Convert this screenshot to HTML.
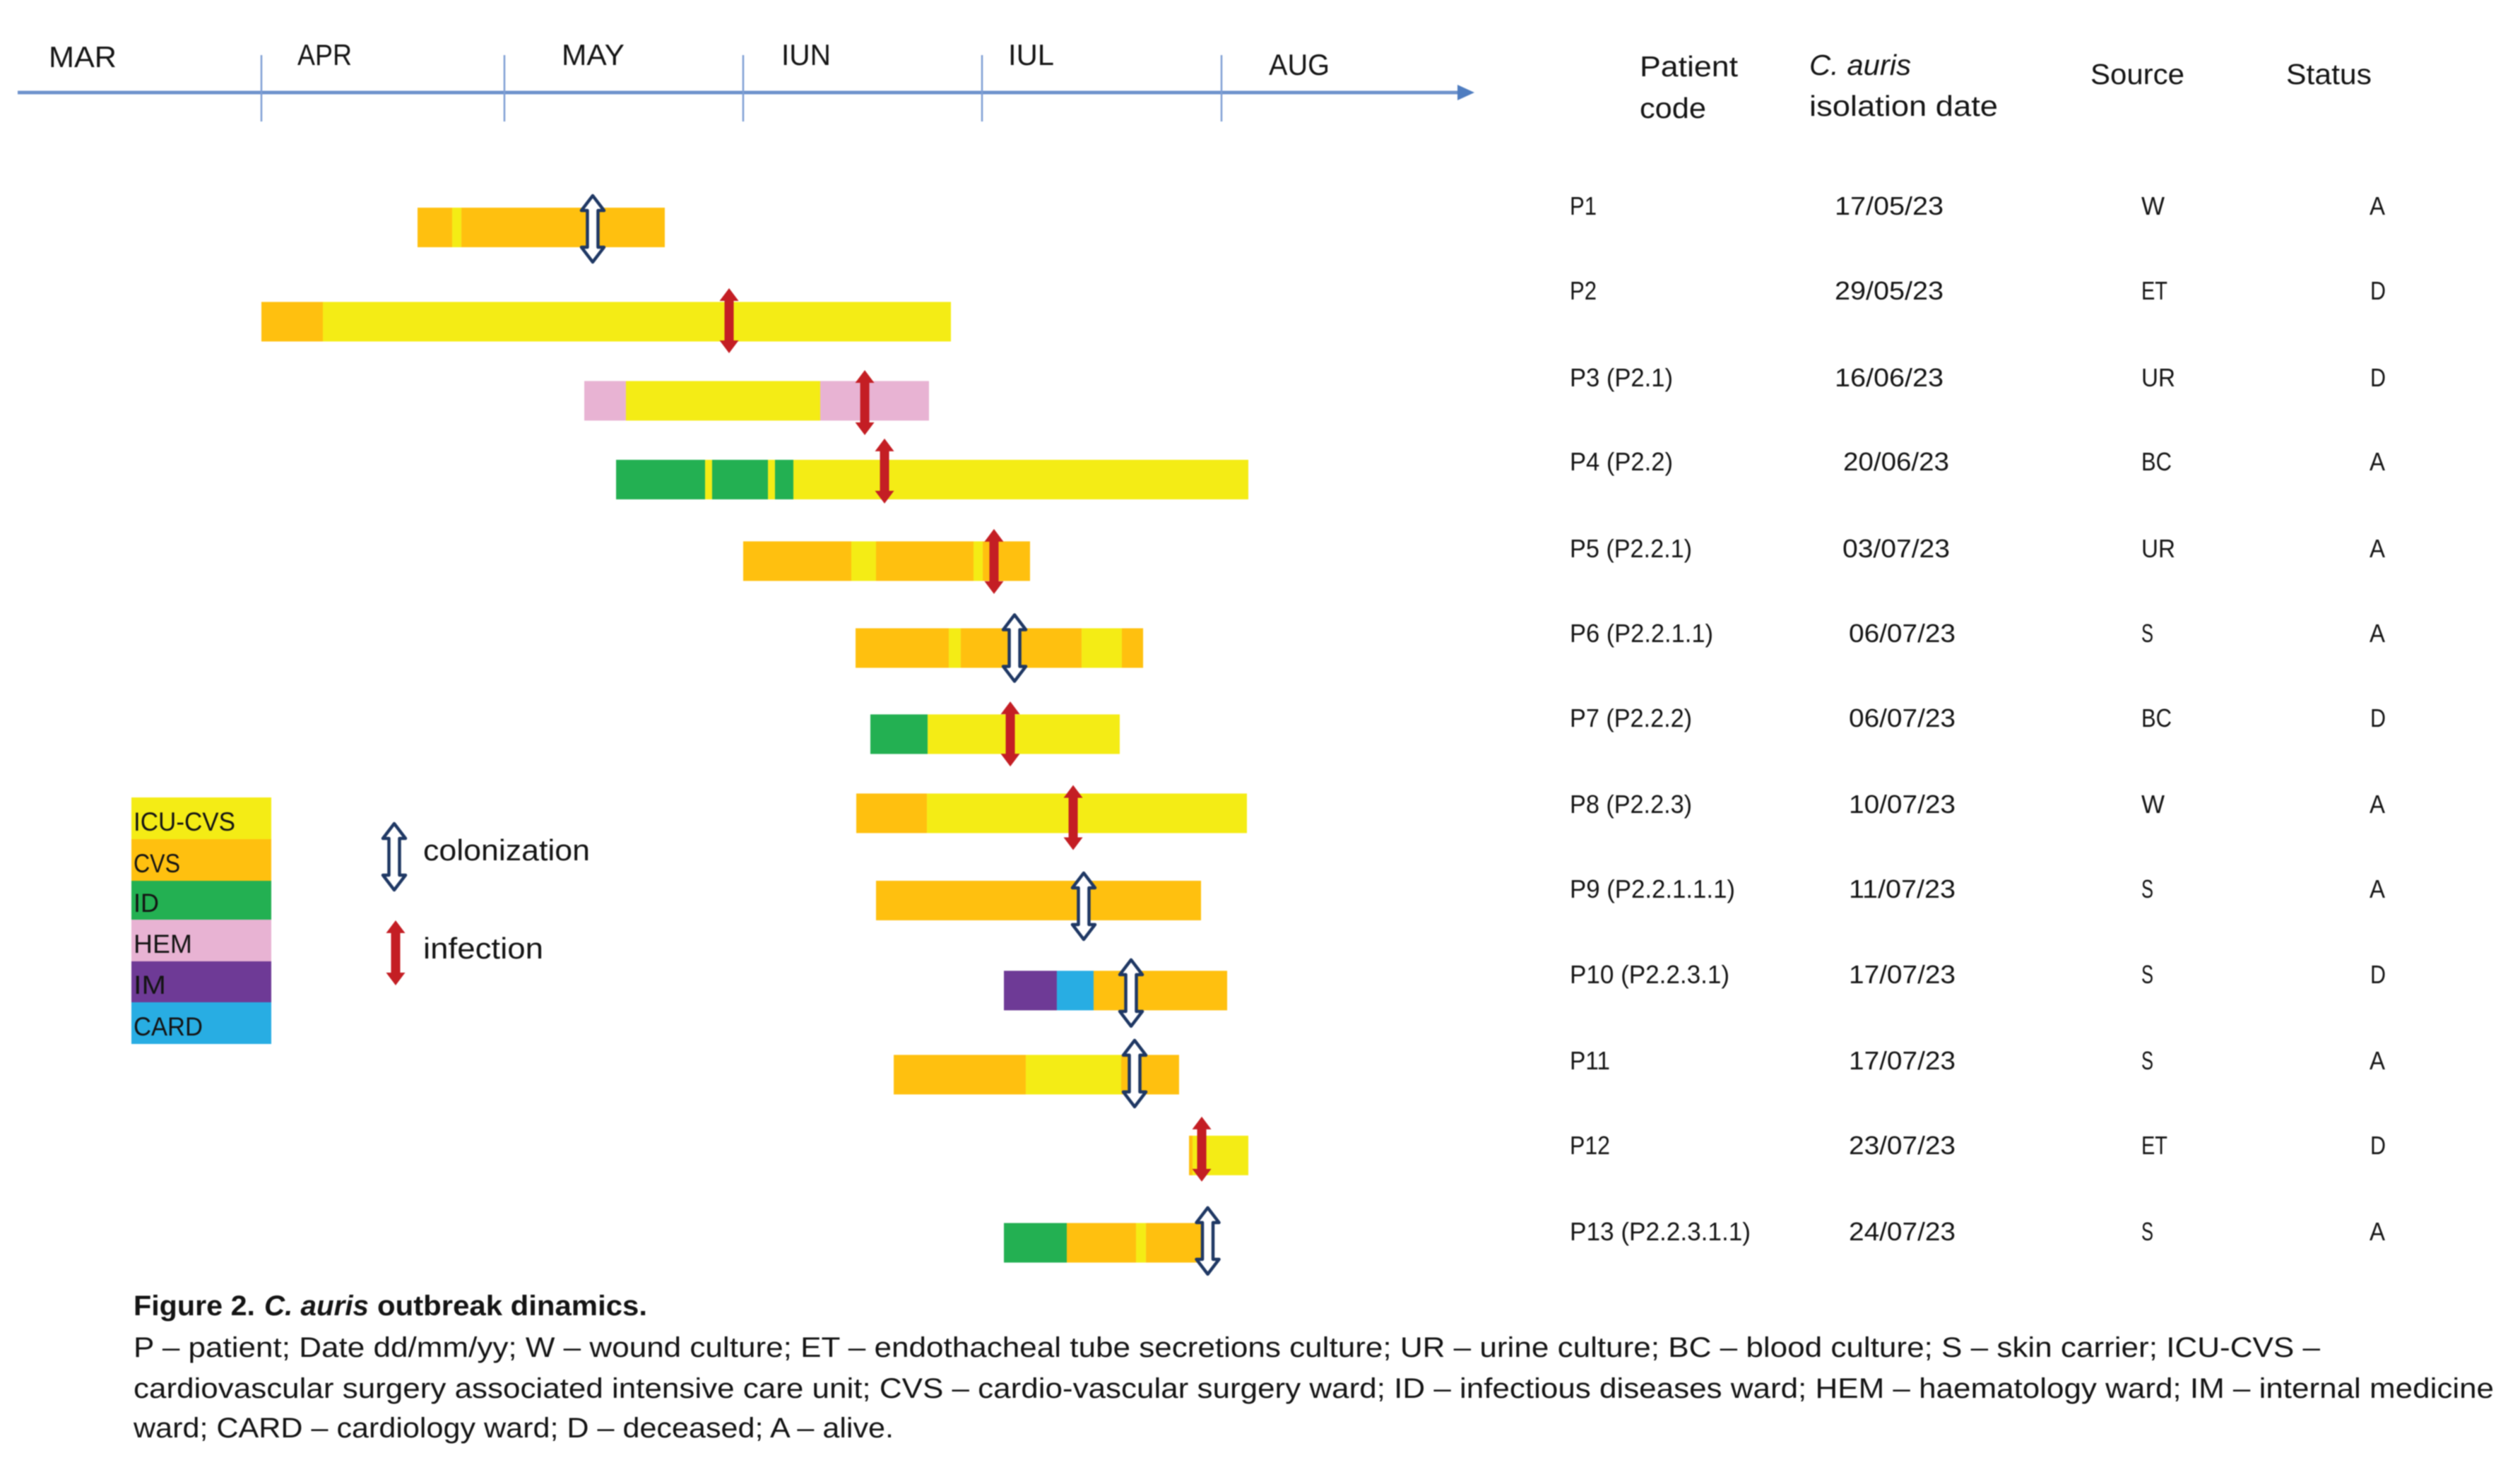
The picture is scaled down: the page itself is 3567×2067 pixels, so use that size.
<!DOCTYPE html>
<html lang="en">
<head>
<meta charset="utf-8">
<title>C. auris outbreak dynamics</title>
<style>
html,body{margin:0;padding:0;background:#fff;width:3567px;height:2067px;overflow:hidden}
svg{display:block;filter:blur(0.9px)}
text{font-family:"Liberation Sans",sans-serif;fill:#141414}
.m{font-size:42px}
.h{font-size:41px}
.t{font-size:36px}
.l{font-size:37px}
.c{font-size:40px}
.k{font-size:42px}
</style>
</head>
<body>
<svg id="chart" xmlns="http://www.w3.org/2000/svg" width="3567" height="2067" viewBox="0 0 3567 2067">
<rect x="0" y="0" width="3567" height="2067" fill="#fff"/>

<g id="axis">
<rect x="25" y="128.5" width="2045" height="5" fill="#6f93cc"/>
<polygon points="2063,120 2087,131 2063,142" fill="#4f7dc0"/>
<g id="ticks"></g>
<text class="m" x="69" y="95" textLength="96" lengthAdjust="spacingAndGlyphs">MAR</text>
<text class="m" x="421" y="92" textLength="77" lengthAdjust="spacingAndGlyphs">APR</text>
<text class="m" x="795" y="92" textLength="89" lengthAdjust="spacingAndGlyphs">MAY</text>
<text class="m" x="1106" y="92" textLength="70" lengthAdjust="spacingAndGlyphs">IUN</text>
<text class="m" x="1427" y="92" textLength="65" lengthAdjust="spacingAndGlyphs">IUL</text>
<text class="m" x="1796" y="106" textLength="86" lengthAdjust="spacingAndGlyphs">AUG</text>
</g>

<g id="bars"></g>
<g id="markers"></g>

<g>
<rect x="186" y="1129" width="198" height="59" fill="#f4ec15"/>
<rect x="186" y="1188" width="198" height="59" fill="#ffc00f"/>
<rect x="186" y="1247" width="198" height="55" fill="#23b052"/>
<rect x="186" y="1302" width="198" height="59" fill="#e8b3d3"/>
<rect x="186" y="1361" width="198" height="58" fill="#6e3a96"/>
<rect x="186" y="1419" width="198" height="59" fill="#28ade3"/>
<text class="l" x="189" y="1176" textLength="144" lengthAdjust="spacingAndGlyphs">ICU-CVS</text>
<text class="l" x="189" y="1235" textLength="66" lengthAdjust="spacingAndGlyphs">CVS</text>
<text class="l" x="189" y="1291" textLength="36" lengthAdjust="spacingAndGlyphs">ID</text>
<text class="l" x="189" y="1349" textLength="83" lengthAdjust="spacingAndGlyphs">HEM</text>
<text class="l" x="189" y="1407" textLength="46" lengthAdjust="spacingAndGlyphs">IM</text>
<text class="l" x="189" y="1466" textLength="98" lengthAdjust="spacingAndGlyphs">CARD</text>
</g>

<g id="markerLegend">
<text class="k" x="599" y="1218" textLength="236" lengthAdjust="spacingAndGlyphs">colonization</text>
<text class="k" x="599" y="1357" textLength="170" lengthAdjust="spacingAndGlyphs">infection</text>
</g>

<g>
<text class="h" x="2321" y="108" textLength="139" lengthAdjust="spacingAndGlyphs">Patient</text>
<text class="h" x="2321" y="167" textLength="94" lengthAdjust="spacingAndGlyphs">code</text>
<text class="h" font-style="italic" x="2561" y="106" textLength="144" lengthAdjust="spacingAndGlyphs">C. auris</text>
<text class="h" x="2561" y="164" textLength="267" lengthAdjust="spacingAndGlyphs">isolation date</text>
<text class="h" x="2959" y="119" textLength="133" lengthAdjust="spacingAndGlyphs">Source</text>
<text class="h" x="3236" y="119" textLength="121" lengthAdjust="spacingAndGlyphs">Status</text>
</g>

<g>
<text class="t" x="2222" y="304" textLength="38" lengthAdjust="spacingAndGlyphs">P1</text>
<text class="t" x="2597" y="304" textLength="154" lengthAdjust="spacingAndGlyphs">17/05/23</text>
<text class="t" x="3031" y="304" textLength="33" lengthAdjust="spacingAndGlyphs">W</text>
<text class="t" x="3354" y="304" textLength="22" lengthAdjust="spacingAndGlyphs">A</text>

<text class="t" x="2222" y="424" textLength="38" lengthAdjust="spacingAndGlyphs">P2</text>
<text class="t" x="2597" y="424" textLength="154" lengthAdjust="spacingAndGlyphs">29/05/23</text>
<text class="t" x="3031" y="424" textLength="37" lengthAdjust="spacingAndGlyphs">ET</text>
<text class="t" x="3355" y="424" textLength="22" lengthAdjust="spacingAndGlyphs">D</text>

<text class="t" x="2222" y="547" textLength="146" lengthAdjust="spacingAndGlyphs">P3 (P2.1)</text>
<text class="t" x="2597" y="547" textLength="154" lengthAdjust="spacingAndGlyphs">16/06/23</text>
<text class="t" x="3031" y="547" textLength="48" lengthAdjust="spacingAndGlyphs">UR</text>
<text class="t" x="3355" y="547" textLength="22" lengthAdjust="spacingAndGlyphs">D</text>

<text class="t" x="2222" y="666" textLength="146" lengthAdjust="spacingAndGlyphs">P4 (P2.2)</text>
<text class="t" x="2609" y="666" textLength="150" lengthAdjust="spacingAndGlyphs">20/06/23</text>
<text class="t" x="3031" y="666" textLength="43" lengthAdjust="spacingAndGlyphs">BC</text>
<text class="t" x="3354" y="666" textLength="22" lengthAdjust="spacingAndGlyphs">A</text>

<text class="t" x="2222" y="789" textLength="173" lengthAdjust="spacingAndGlyphs">P5 (P2.2.1)</text>
<text class="t" x="2608" y="789" textLength="152" lengthAdjust="spacingAndGlyphs">03/07/23</text>
<text class="t" x="3031" y="789" textLength="48" lengthAdjust="spacingAndGlyphs">UR</text>
<text class="t" x="3354" y="789" textLength="22" lengthAdjust="spacingAndGlyphs">A</text>

<text class="t" x="2222" y="909" textLength="203" lengthAdjust="spacingAndGlyphs">P6 (P2.2.1.1)</text>
<text class="t" x="2617" y="909" textLength="151" lengthAdjust="spacingAndGlyphs">06/07/23</text>
<text class="t" x="3031" y="909" textLength="17" lengthAdjust="spacingAndGlyphs">S</text>
<text class="t" x="3354" y="909" textLength="22" lengthAdjust="spacingAndGlyphs">A</text>

<text class="t" x="2222" y="1029" textLength="173" lengthAdjust="spacingAndGlyphs">P7 (P2.2.2)</text>
<text class="t" x="2617" y="1029" textLength="151" lengthAdjust="spacingAndGlyphs">06/07/23</text>
<text class="t" x="3031" y="1029" textLength="43" lengthAdjust="spacingAndGlyphs">BC</text>
<text class="t" x="3355" y="1029" textLength="22" lengthAdjust="spacingAndGlyphs">D</text>

<text class="t" x="2222" y="1151" textLength="173" lengthAdjust="spacingAndGlyphs">P8 (P2.2.3)</text>
<text class="t" x="2617" y="1151" textLength="151" lengthAdjust="spacingAndGlyphs">10/07/23</text>
<text class="t" x="3031" y="1151" textLength="33" lengthAdjust="spacingAndGlyphs">W</text>
<text class="t" x="3354" y="1151" textLength="22" lengthAdjust="spacingAndGlyphs">A</text>

<text class="t" x="2222" y="1271" textLength="234" lengthAdjust="spacingAndGlyphs">P9 (P2.2.1.1.1)</text>
<text class="t" x="2617" y="1271" textLength="151" lengthAdjust="spacingAndGlyphs">11/07/23</text>
<text class="t" x="3031" y="1271" textLength="17" lengthAdjust="spacingAndGlyphs">S</text>
<text class="t" x="3354" y="1271" textLength="22" lengthAdjust="spacingAndGlyphs">A</text>

<text class="t" x="2222" y="1392" textLength="226" lengthAdjust="spacingAndGlyphs">P10 (P2.2.3.1)</text>
<text class="t" x="2617" y="1392" textLength="151" lengthAdjust="spacingAndGlyphs">17/07/23</text>
<text class="t" x="3031" y="1392" textLength="17" lengthAdjust="spacingAndGlyphs">S</text>
<text class="t" x="3355" y="1392" textLength="22" lengthAdjust="spacingAndGlyphs">D</text>

<text class="t" x="2222" y="1514" textLength="57" lengthAdjust="spacingAndGlyphs">P11</text>
<text class="t" x="2617" y="1514" textLength="151" lengthAdjust="spacingAndGlyphs">17/07/23</text>
<text class="t" x="3031" y="1514" textLength="17" lengthAdjust="spacingAndGlyphs">S</text>
<text class="t" x="3354" y="1514" textLength="22" lengthAdjust="spacingAndGlyphs">A</text>

<text class="t" x="2222" y="1634" textLength="57" lengthAdjust="spacingAndGlyphs">P12</text>
<text class="t" x="2617" y="1634" textLength="151" lengthAdjust="spacingAndGlyphs">23/07/23</text>
<text class="t" x="3031" y="1634" textLength="37" lengthAdjust="spacingAndGlyphs">ET</text>
<text class="t" x="3355" y="1634" textLength="22" lengthAdjust="spacingAndGlyphs">D</text>

<text class="t" x="2222" y="1756" textLength="256" lengthAdjust="spacingAndGlyphs">P13 (P2.2.3.1.1)</text>
<text class="t" x="2617" y="1756" textLength="151" lengthAdjust="spacingAndGlyphs">24/07/23</text>
<text class="t" x="3031" y="1756" textLength="17" lengthAdjust="spacingAndGlyphs">S</text>
<text class="t" x="3354" y="1756" textLength="22" lengthAdjust="spacingAndGlyphs">A</text>
</g>

<g>
<text class="c" font-weight="bold" x="189" y="1862" textLength="172" lengthAdjust="spacingAndGlyphs">Figure 2.</text>
<text class="c" font-weight="bold" font-style="italic" x="374" y="1862" textLength="148" lengthAdjust="spacingAndGlyphs">C. auris</text>
<text class="c" font-weight="bold" x="534" y="1862" textLength="382" lengthAdjust="spacingAndGlyphs">outbreak dinamics.</text>
<text class="c" x="189" y="1921" textLength="3095" lengthAdjust="spacingAndGlyphs">P – patient; Date dd/mm/yy; W – wound culture; ET – endothacheal tube secretions culture; UR – urine culture; BC – blood culture; S – skin carrier; ICU-CVS –</text>
<text class="c" x="189" y="1979" textLength="3341" lengthAdjust="spacingAndGlyphs">cardiovascular surgery associated intensive care unit; CVS – cardio-vascular surgery ward; ID – infectious diseases ward; HEM – haematology ward; IM – internal medicine</text>
<text class="c" x="189" y="2035" textLength="1076" lengthAdjust="spacingAndGlyphs">ward; CARD – cardiology ward; D – deceased; A – alive.</text>
</g>
</svg>

<script>
// Days counted from the April tick on the time axis.
const tickDays = [0, 30.88, 61.22, 91.57, 122];
const patients = ["P1","P2","P3","P4","P5","P6","P7","P8","P9","P10","P11","P12","P13"];
// Row position of each patient's bar, in row units.
const barRows = [0, 1.114, 2.049, 2.98, 3.944, 4.971, 5.989, 6.924, 7.955, 9.019, 10.013, 10.968, 12];
// Ward of each stay segment per patient.
const stayWards = [
  ["CVS","ICU-CVS","CVS"],
  ["CVS","ICU-CVS"],
  ["HEM","ICU-CVS","HEM"],
  ["ID","ICU-CVS","ID","ICU-CVS","ID","ICU-CVS"],
  ["CVS","ICU-CVS","CVS","ICU-CVS","CVS"],
  ["CVS","ICU-CVS","CVS","ICU-CVS","CVS"],
  ["ID","ICU-CVS"],
  ["CVS","ICU-CVS"],
  ["CVS"],
  ["IM","CARD","CVS"],
  ["CVS","ICU-CVS","CVS"],
  ["CVS","ICU-CVS"],
  ["ID","CVS","ICU-CVS","CVS"]
];
// Day boundaries of those segments.
const stayDays = [
  [19.84, 24.24, 25.41, 51.26],
  [0, 7.81, 87.62],
  [41.03, 46.32, 71.01, 84.83],
  [45.07, 56.38, 57.27, 64.37, 65.26, 67.6, 125.41],
  [61.22, 74.96, 78.1, 90.49, 91.66, 97.67],
  [75.5, 87.35, 88.87, 104.23, 109.34, 112.04],
  [77.38, 84.66, 109.07],
  [75.59, 84.57, 125.23],
  [78.1, 119.4],
  [94.35, 101.08, 105.75, 122.72],
  [80.35, 97.13, 109.25, 116.61],
  [117.87, 118.32, 125.41],
  [94.35, 102.34, 111.14, 112.4, 119.58]
];
// Isolation event day, row position and kind for each patient.
const eventDays = [42.1, 59.43, 76.67, 79.18, 93.09, 95.7, 95.16, 103.15, 104.49, 110.51, 110.96, 119.49, 120.25];
const eventRows = [0.017, 1.102, 2.07, 2.879, 3.948, 4.971, 5.987, 6.975, 8.022, 9.048, 10, 10.893, 11.978];
const eventKinds = ["colonization","infection","infection","infection","infection","colonization","infection","infection","colonization","colonization","colonization","infection","colonization"];

const NS = "http://www.w3.org/2000/svg";
const wardColor = {"ICU-CVS":"#f4ec15","CVS":"#ffc00f","ID":"#23b052","HEM":"#e8b3d3","IM":"#6e3a96","CARD":"#28ade3"};
const dayToX = d => 370 + d * 1359 / 122;
const rowToY = r => 322 + r * 119.79;

function slug(s){ return s.toLowerCase(); }

function arrowPoints(cx, top, bottom, shaftHalf, headHalf, headLen){
  return [
    [cx, top],[cx + headHalf, top + headLen],[cx + shaftHalf, top + headLen],
    [cx + shaftHalf, bottom - headLen],[cx + headHalf, bottom - headLen],[cx, bottom],
    [cx - headHalf, bottom - headLen],[cx - shaftHalf, bottom - headLen],
    [cx - shaftHalf, top + headLen],[cx - headHalf, top + headLen]
  ].map(p => p.join(",")).join(" ");
}

function drawArrow(parent, cx, cy, kind, name){
  const poly = document.createElementNS(NS, "polygon");
  
  
  if (kind === "colonization") {
    poly.setAttribute("points", arrowPoints(cx, cy - 47, cy + 47, 7.5, 16, 21));
    poly.setAttribute("fill", "#ffffff");
    poly.setAttribute("stroke", "#1f3864");
    poly.setAttribute("stroke-width", "4.5");
    poly.setAttribute("stroke-linejoin", "round");
  } else {
    poly.setAttribute("points", arrowPoints(cx, cy - 46, cy + 46, 6.5, 13.5, 18));
    poly.setAttribute("fill", "#c41e24");
  }
  parent.appendChild(poly);
}

const tickGroup = document.getElementById("ticks");
tickDays.forEach((d, i) => {
  const ln = document.createElementNS(NS, "line");
  
  
  ln.setAttribute("x1", dayToX(d));
  ln.setAttribute("x2", dayToX(d));
  ln.setAttribute("y1", 78);
  ln.setAttribute("y2", 172);
  ln.setAttribute("stroke", "#7e9ed4");
  ln.setAttribute("stroke-width", "2.5");
  tickGroup.appendChild(ln);
});

const barGroup = document.getElementById("bars");
patients.forEach((p, i) => {
  const cy = rowToY(barRows[i]);
  stayWards[i].forEach((ward, j) => {
    const x0 = dayToX(stayDays[i][j]);
    const x1 = dayToX(stayDays[i][j + 1]);
    const r = document.createElementNS(NS, "rect");
    
    
    r.setAttribute("x", x0);
    r.setAttribute("y", cy - 28);
    r.setAttribute("width", x1 - x0);
    r.setAttribute("height", 56);
    r.setAttribute("fill", wardColor[ward]);
    barGroup.appendChild(r);
  });
});

const markerGroup = document.getElementById("markers");
patients.forEach((p, i) => {
  drawArrow(markerGroup, dayToX(eventDays[i]), rowToY(eventRows[i]), eventKinds[i], 'marker-' + slug(p) + '-' + eventKinds[i]);
});

const markerLegend = document.getElementById("markerLegend");
drawArrow(markerLegend, 558, 1213, "colonization", 'legend-marker-colonization');
drawArrow(markerLegend, 560, 1349, "infection", 'legend-marker-infection');
</script>
</body>
</html>
